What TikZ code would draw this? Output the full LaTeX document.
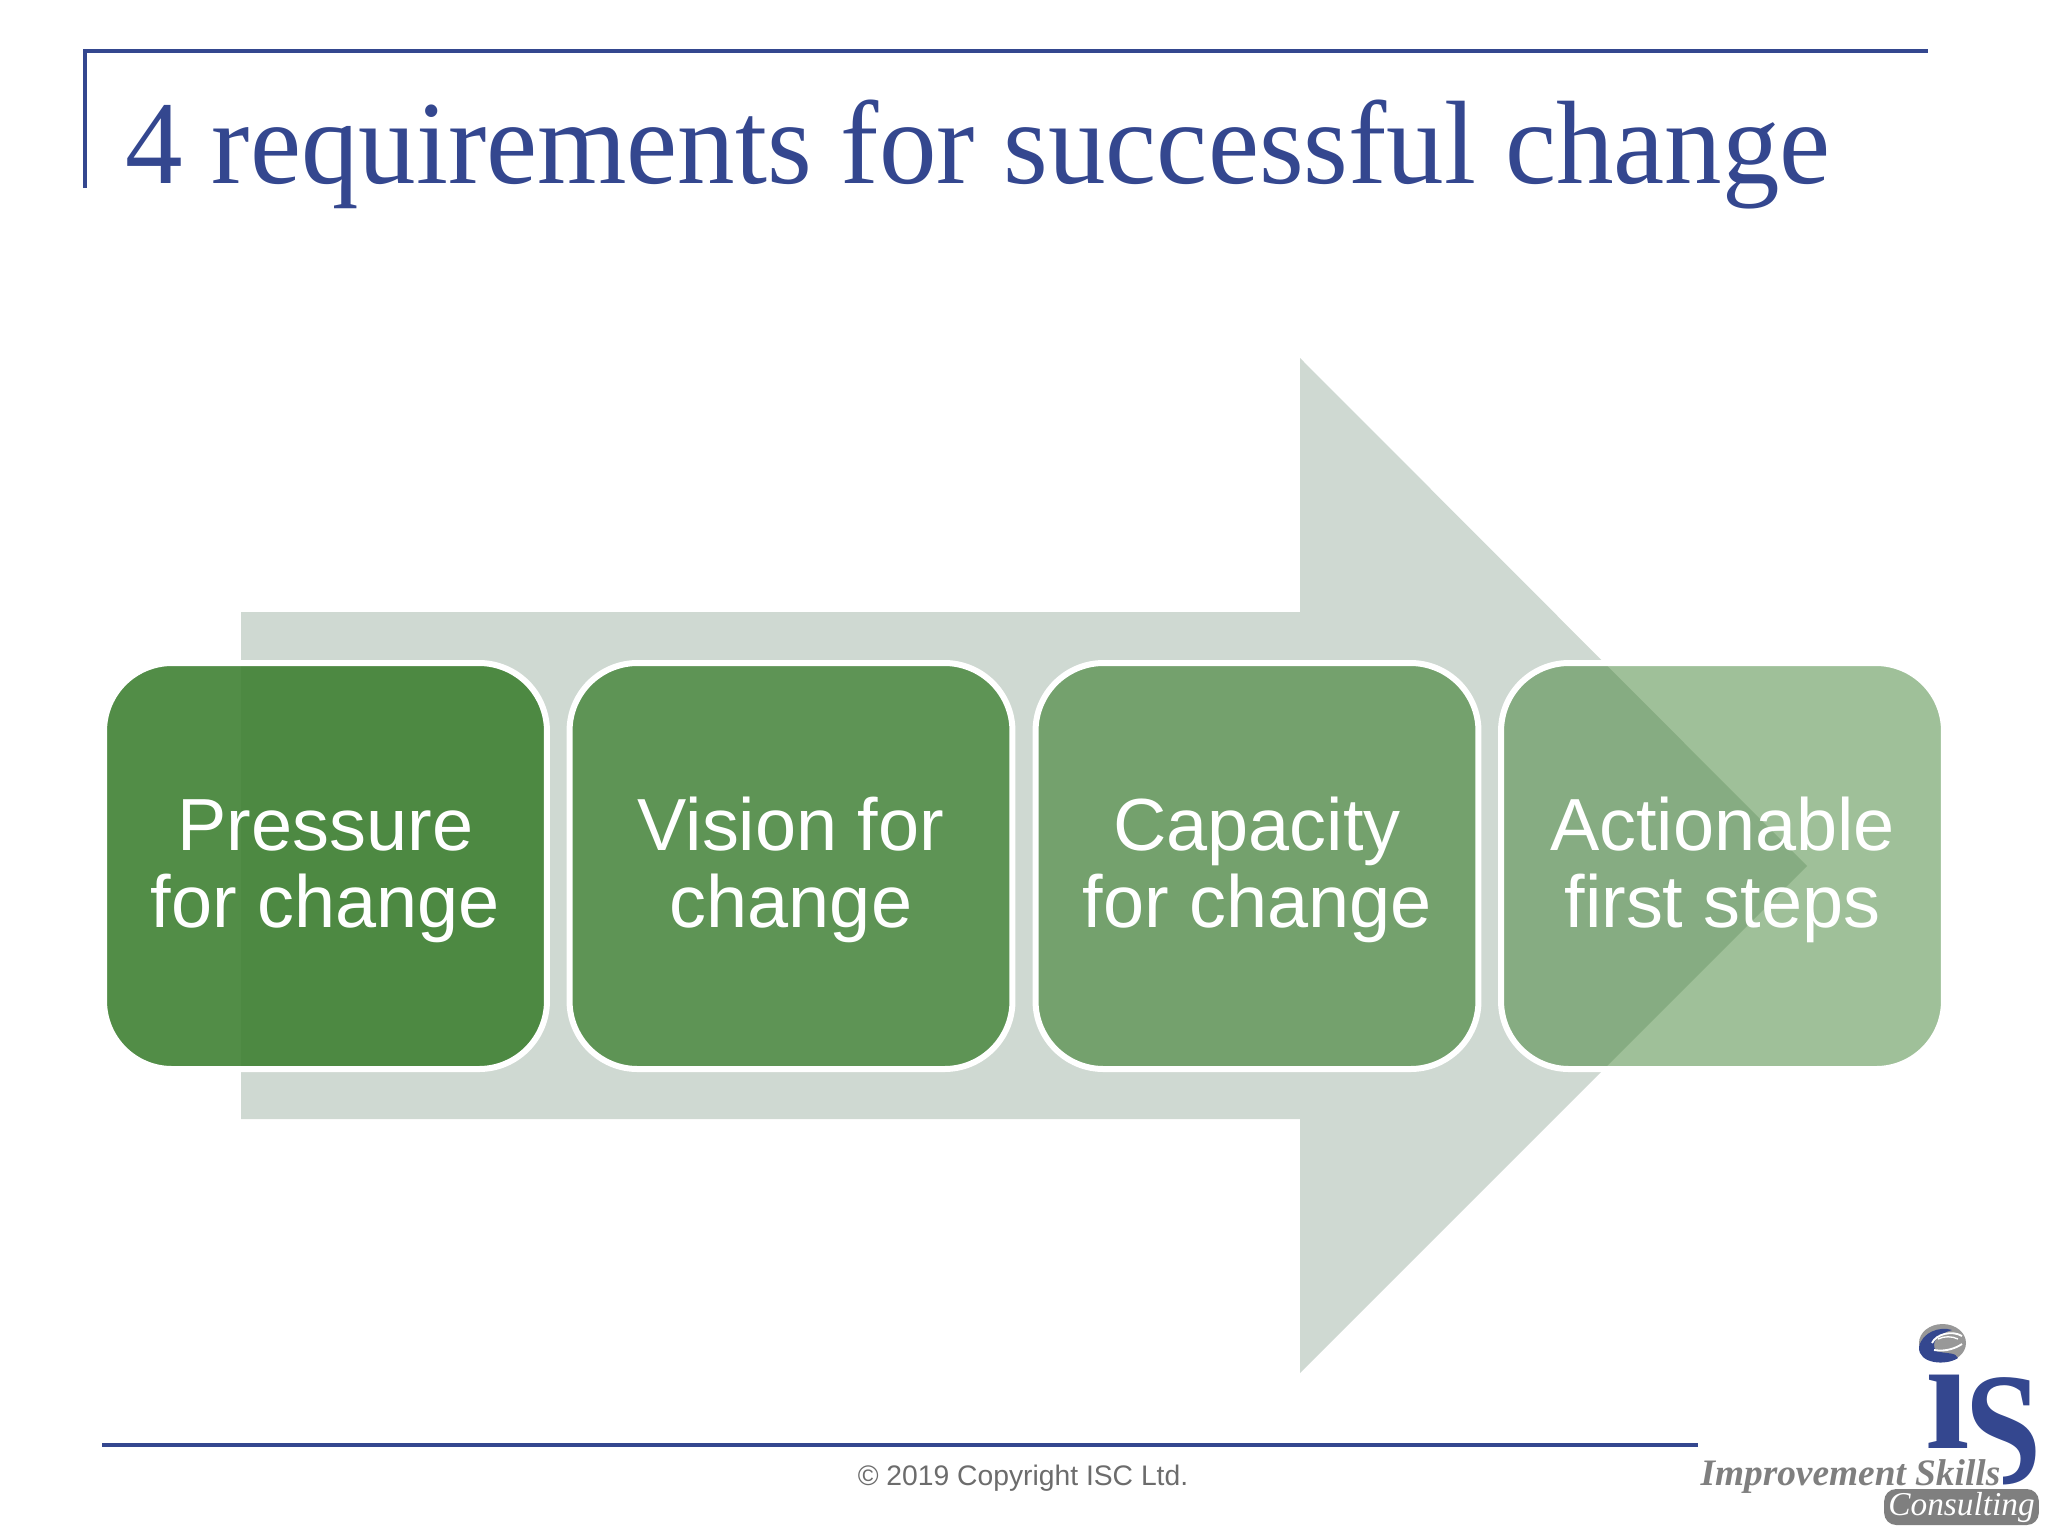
\documentclass[tikz,border=0pt]{standalone}
\usepackage{fontspec}
\setmainfont{Liberation Serif}
\setsansfont{Liberation Sans}
\definecolor{iscblue}{HTML}{34478F}
\definecolor{iscgrey}{HTML}{7F7F7F}
\definecolor{stepgreen}{HTML}{3F8133}
\definecolor{arrowgrey}{HTML}{CFD9D2}
\newcommand{\steplabel}[2]{\rule{0pt}{24pt}#1\\\rule[-7.1pt]{0pt}{7.1pt}#2}
\tikzset{
  stepbox/.style={rectangle, rounded corners=25.5pt, draw=white, line width=2.25pt,
    fill=stepgreen, text=white, text opacity=1, draw opacity=1,
    minimum width=166.1pt, minimum height=152.25pt, align=center, inner sep=0pt,
    font=\sffamily\fontsize{27.7}{28.9}\selectfont},
  rule/.style={iscblue, line width=1.6pt}
}
\begin{document}
\begin{tikzpicture}[x=0.375pt, y=-0.375pt]
  \useasboundingbox (0,0) rectangle (2048,1536);
  \coordinate (corner) at (85,51);
  \coordinate (topend) at (1928,51);
  \coordinate (leftend) at (85,188);
  \coordinate (footleft) at (102,1445);
  \coordinate (footright) at (1698,1445);
  \draw[rule] (leftend) -- (corner) -- (topend);
  \draw[rule] (footleft) -- (footright);
  \node[anchor=base west, inner sep=0pt, text=iscblue, xscale=0.969, font=\fontsize{44.5}{50}\selectfont] (title) at (125,183) {4 requirements for successful change};
  \fill[arrowgrey] (241,612) -- (1300,612) -- (1300,358) -- (1807,866) -- (1300,1373) -- (1300,1119) -- (241,1119) -- cycle;
  \node[stepbox, fill opacity=0.9] (pressure) at (325.5,866) {\steplabel{Pressure}{for change}};
  \node[stepbox, fill opacity=0.78] (vision) at (791,866) {\steplabel{Vision for}{change}};
  \node[stepbox, fill opacity=0.63] (capacity) at (1257,866) {\steplabel{Capacity}{for change}};
  \node[stepbox, fill opacity=0.5] (actionable) at (1722.5,866) {\steplabel{Actionable}{first steps}};
  \node[text=iscgrey!85!black, font=\sffamily\fontsize{10.6}{12}\selectfont] (copyright) at (1023,1478) {© 2019 Copyright ISC Ltd.};
  \fill[iscgrey!80] (1942.5,1343) ellipse (23.5 and 19);
  \fill[iscblue] (1919,1347) .. controls (1922,1332) and (1940,1326) .. (1952,1330) .. controls (1938,1334) and (1930,1342) .. (1936,1351) .. controls (1946,1354) and (1956,1352) .. (1958,1358) .. controls (1946,1366) and (1918,1364) .. (1919,1347) -- cycle;
  \draw[white, line width=0.7pt] (1932,1343) .. controls (1936,1334) and (1952,1330) .. (1962,1336);
  \draw[white, line width=0.7pt] (1934,1350) .. controls (1946,1352) and (1956,1348) .. (1962,1344);
  \draw[white, line width=0.5pt] (1938,1339) .. controls (1944,1336) and (1952,1336) .. (1958,1339);
  \node[anchor=base, inner sep=0pt, text=iscblue, font=\bfseries\fontsize{60}{60}\selectfont] (logoi) at (1948,1448) {ı};
  \begin{scope}
    \clip (1955,1360) -- (2048,1360) -- (2048,1490) -- (2003,1490) -- (2003,1447) -- (1955,1447) -- cycle;
    \node[anchor=base, inner sep=0pt, text=iscblue, xscale=0.87, font=\bfseries\fontsize{60}{60}\selectfont] (logos) at (2003,1483) {S};
  \end{scope}
  \node[anchor=base west, inner sep=0pt, text=iscgrey, font=\bfseries\itshape\fontsize{14}{16}\selectfont] (improvement) at (1700,1485) {Improvement Skills};
  \node[rectangle, rounded corners=4.5pt, fill=iscgrey, text=white, anchor=center, inner sep=0pt, minimum width=58pt, minimum height=13.5pt, font=\itshape\fontsize{12.5}{13}\selectfont] (consulting) at (1961.5,1507) {Consulting};
\end{tikzpicture}
\end{document}
